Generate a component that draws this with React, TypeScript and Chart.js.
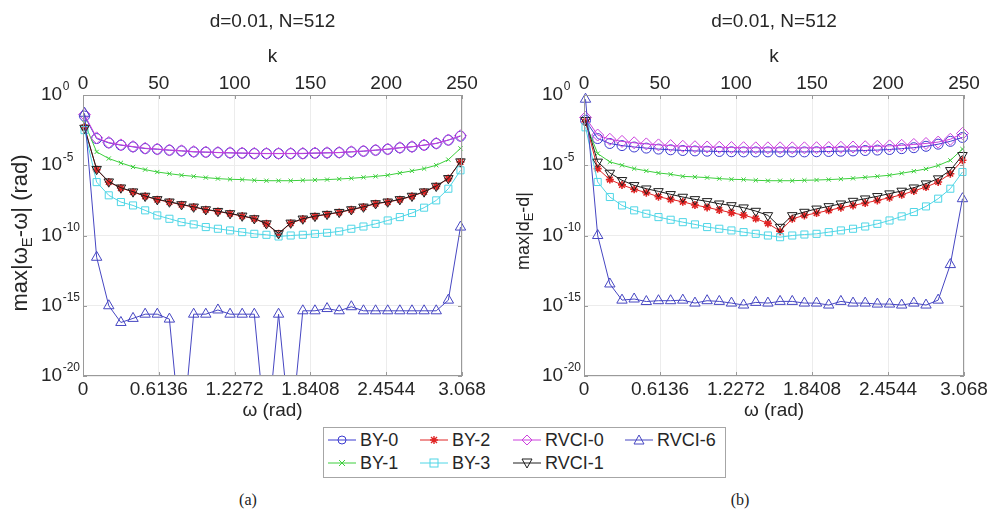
import React, { useEffect, useRef } from 'react';
import { Chart, registerables } from 'chart.js';

Chart.register(...registerables);

// ---------------- data ----------------
// sample index k (omega = 2*pi*k/512)
const K = [1, 9, 17, 25, 33, 41, 49, 57, 65, 73, 81, 89, 97, 105, 113, 121, 129, 137, 145, 153, 161, 169, 177, 185, 193, 201, 209, 217, 225, 233, 241, 249];
const K_TICKS = [0, 50, 100, 150, 200, 250];
const K_TICK_LABELS = ['0', '50', '100', '150', '200', '250'];
const OMEGA_TICK_LABELS = ['0', '0.6136', '1.2272', '1.8408', '2.4544', '3.068'];
const Y_EXPONENTS = [0, -5, -10, -15, -20];
const SERIES_NAMES = ['BY-0', 'BY-1', 'BY-2', 'BY-3', 'RVCI-0', 'RVCI-1', 'RVCI-6'];

// panel (a): log10 of max|omega_E - omega|
const A_BY0 = [-1.5, -3.1, -3.41, -3.57, -3.69, -3.81, -3.86, -3.93, -3.98, -4.05, -4.07, -4.1, -4.12, -4.14, -4.17, -4.17, -4.17, -4.17, -4.17, -4.14, -4.12, -4.1, -4.05, -4.0, -3.93, -3.86, -3.76, -3.69, -3.57, -3.45, -3.21, -2.93];
const A_BY1 = [-2.0, -4.05, -4.52, -4.83, -5.12, -5.31, -5.48, -5.6, -5.71, -5.79, -5.88, -5.95, -6.0, -6.02, -6.07, -6.1, -6.1, -6.1, -6.07, -6.05, -6.02, -5.98, -5.93, -5.86, -5.79, -5.71, -5.55, -5.4, -5.24, -5.0, -4.6, -3.8];
const A_BY2 = [-2.3, -5.31, -6.19, -6.62, -6.9, -7.21, -7.45, -7.62, -7.81, -7.98, -8.17, -8.29, -8.45, -8.62, -8.81, -9.17, -9.88, -9.12, -8.83, -8.64, -8.5, -8.36, -8.17, -7.98, -7.74, -7.62, -7.45, -7.21, -6.9, -6.5, -5.95, -4.76];
const A_BY3 = [-2.5, -6.2, -7.14, -7.62, -7.86, -8.21, -8.57, -8.81, -9.05, -9.21, -9.4, -9.52, -9.64, -9.76, -9.88, -9.95, -10.07, -10.0, -9.95, -9.88, -9.81, -9.71, -9.52, -9.36, -9.17, -8.93, -8.69, -8.4, -8.02, -7.5, -6.67, -5.36];
const A_RVCI0 = [-1.4, -3.05, -3.38, -3.55, -3.67, -3.79, -3.85, -3.92, -3.97, -4.03, -4.06, -4.09, -4.11, -4.13, -4.15, -4.16, -4.16, -4.16, -4.15, -4.13, -4.11, -4.09, -4.04, -3.99, -3.92, -3.85, -3.75, -3.68, -3.56, -3.44, -3.2, -2.9];
const A_RVCI1 = [-2.35, -5.28, -6.17, -6.6, -6.88, -7.19, -7.43, -7.6, -7.79, -7.96, -8.15, -8.27, -8.43, -8.6, -8.79, -9.15, -9.85, -9.1, -8.81, -8.62, -8.48, -8.34, -8.15, -7.96, -7.72, -7.6, -7.43, -7.19, -6.88, -6.48, -5.93, -4.74];
const A_RVCI6 = [-1.3, -11.55, -15.0, -16.19, -15.9, -15.6, -15.6, -15.95, -25.0, -15.6, -15.6, -15.3, -15.6, -15.6, -15.6, -24.7, -15.6, -24.4, -15.36, -15.36, -15.2, -15.36, -15.07, -15.36, -15.36, -15.36, -15.36, -15.36, -15.36, -15.36, -14.6, -9.4];

// panel (b): log10 of max|d_E - d|
const B_BY0 = [-1.8, -3.1, -3.45, -3.6, -3.7, -3.78, -3.85, -3.9, -3.95, -3.98, -4.0, -4.02, -4.04, -4.05, -4.05, -4.05, -4.05, -4.05, -4.05, -4.04, -4.02, -4.0, -3.98, -3.95, -3.92, -3.88, -3.82, -3.75, -3.65, -3.5, -3.3, -3.02];
const B_BY1 = [-2.0, -4.17, -4.76, -5.0, -5.24, -5.4, -5.55, -5.64, -5.79, -5.83, -5.88, -5.95, -6.0, -6.02, -6.07, -6.1, -6.1, -6.1, -6.07, -6.05, -6.02, -5.98, -5.93, -5.86, -5.79, -5.71, -5.57, -5.42, -5.26, -5.02, -4.65, -3.85];
const B_BY2 = [-1.9, -5.24, -6.02, -6.4, -6.71, -6.95, -7.24, -7.43, -7.6, -7.83, -8.0, -8.19, -8.38, -8.55, -8.79, -9.14, -9.69, -8.81, -8.57, -8.4, -8.21, -8.02, -7.86, -7.69, -7.5, -7.31, -7.1, -6.83, -6.55, -6.19, -5.6, -4.64];
const B_BY3 = [-2.3, -6.19, -7.26, -7.86, -8.21, -8.45, -8.69, -8.88, -9.05, -9.21, -9.4, -9.52, -9.64, -9.76, -9.88, -10.0, -10.12, -10.0, -9.93, -9.88, -9.76, -9.64, -9.52, -9.36, -9.17, -8.93, -8.64, -8.33, -7.93, -7.38, -6.67, -5.48];
const B_RVCI0 = [-1.6, -2.85, -3.15, -3.3, -3.4, -3.48, -3.55, -3.6, -3.65, -3.68, -3.7, -3.72, -3.74, -3.75, -3.76, -3.76, -3.76, -3.76, -3.76, -3.75, -3.74, -3.72, -3.7, -3.68, -3.65, -3.62, -3.58, -3.52, -3.45, -3.35, -3.15, -2.74];
const B_RVCI1 = [-1.8, -4.76, -5.55, -6.07, -6.43, -6.67, -6.86, -7.07, -7.26, -7.43, -7.57, -7.74, -7.86, -8.02, -8.26, -8.57, -9.4, -8.57, -8.33, -8.1, -7.93, -7.74, -7.55, -7.38, -7.21, -7.02, -6.83, -6.6, -6.31, -5.95, -5.36, -4.29];
const B_RVCI6 = [-0.3, -10.0, -13.45, -14.6, -14.52, -14.7, -14.64, -14.64, -14.6, -14.81, -14.64, -14.69, -14.81, -14.95, -14.76, -14.81, -14.69, -14.69, -14.81, -14.81, -14.95, -14.69, -14.81, -14.81, -14.88, -14.88, -14.95, -14.81, -14.95, -14.6, -12.07, -7.38];

const PANEL_A = [A_BY0, A_BY1, A_BY2, A_BY3, A_RVCI0, A_RVCI1, A_RVCI6];
const PANEL_B = [B_BY0, B_BY1, B_BY2, B_BY3, B_RVCI0, B_RVCI1, B_RVCI6];

// ---------------- styles ----------------
const FONT = '"Liberation Sans", Arial, Helvetica, sans-serif';
const TEXT = '#262626';
const AXIS = '#9a9a9a';
const GRID = '#ececec';

type Style = { color: string; pointStyle: string; radius: number; rotation: number; pbw: number; lw: number };
const STYLES: Style[] = [
  { color: '#3b3bd0', pointStyle: 'circle', radius: 5, rotation: 0, pbw: 1, lw: 1 },
  { color: '#3ccf3c', pointStyle: 'crossRot', radius: 3, rotation: 0, pbw: 1, lw: 1 },
  { color: '#e02424', pointStyle: 'star', radius: 4, rotation: 0, pbw: 1.6, lw: 1 },
  { color: '#4fd6e6', pointStyle: 'rect', radius: 5, rotation: 0, pbw: 1, lw: 1 },
  { color: '#cc40dd', pointStyle: 'rectRot', radius: 6, rotation: 0, pbw: 1, lw: 1 },
  { color: '#1e1e1e', pointStyle: 'triangle', radius: 5.5, rotation: 180, pbw: 1, lw: 1 },
  { color: '#4646c2', pointStyle: 'triangle', radius: 6, rotation: 0, pbw: 1, lw: 1 },
];

const CANVAS_W = 496;
const CANVAS_H = 430;
const PLOT_TOP = 95; // height reserved above the plot (top axis)
const PLOT_BOTTOM_SPACE = 54; // height reserved below the plot (bottom axis)
const TICK_FONT = 19;

type PanelCfg = {
  left: number;
  values: number[][];
  title: string;
  yMain: string;
  ySub: string;
  yTail: string;
  yFont: number;
  yTitleX: number;
  yTitleY: number;
  pad: { left: number; right: number; top: number; bottom: number };
};

function makeDecor(cfg: PanelCfg) {
  return {
    id: 'decor',
    afterDraw(chart: any) {
      const { ctx, chartArea: a, scales } = chart;
      const yS = scales.y;
      const xS = scales.x;
      const cx = (a.left + a.right) / 2;
      ctx.save();
      // box
      ctx.strokeStyle = AXIS;
      ctx.lineWidth = 1;
      ctx.strokeRect(a.left + 0.5, a.top + 0.5, a.right - a.left - 1, a.bottom - a.top - 1);
      // inner tick marks
      ctx.beginPath();
      K_TICKS.forEach((k) => {
        const x = Math.round(xS.getPixelForValue(k)) + 0.5;
        ctx.moveTo(x, a.bottom);
        ctx.lineTo(x, a.bottom - 4);
        ctx.moveTo(x, a.top);
        ctx.lineTo(x, a.top + 4);
      });
      Y_EXPONENTS.forEach((e) => {
        const y = Math.round(yS.getPixelForValue(Math.pow(10, e))) + 0.5;
        ctx.moveTo(a.left, y);
        ctx.lineTo(a.left + 4, y);
        ctx.moveTo(a.right, y);
        ctx.lineTo(a.right - 4, y);
      });
      ctx.stroke();

      ctx.fillStyle = TEXT;
      // y tick labels 10^e
      Y_EXPONENTS.forEach((e) => {
        const y = yS.getPixelForValue(Math.pow(10, e));
        const x0 = a.left - 42;
        ctx.font = `${TICK_FONT}px ${FONT}`;
        ctx.textAlign = 'left';
        ctx.textBaseline = 'middle';
        ctx.fillText('10', x0, y);
        const w = ctx.measureText('10').width;
        ctx.font = `12px ${FONT}`;
        ctx.fillText(String(e), x0 + w + 0.5, y - 8);
      });

      // titles
      ctx.textAlign = 'center';
      ctx.textBaseline = 'middle';
      ctx.font = `19px ${FONT}`;
      ctx.fillText(cfg.title, cx, 22);
      ctx.font = `19px ${FONT}`;
      ctx.fillText('k', cx, 57);
      ctx.fillText('ω (rad)', cx, 411);

      // rotated y title with subscript
      ctx.translate(cfg.yTitleX, cfg.yTitleY);
      ctx.rotate(-Math.PI / 2);
      ctx.textAlign = 'left';
      const mainFont = `${cfg.yFont}px ${FONT}`;
      const subFont = `${Math.round(cfg.yFont * 0.7)}px ${FONT}`;
      ctx.font = mainFont;
      const w1 = ctx.measureText(cfg.yMain).width;
      const w3 = ctx.measureText(cfg.yTail).width;
      ctx.font = subFont;
      const w2 = ctx.measureText(cfg.ySub).width;
      let x = -(w1 + w2 + w3) / 2;
      ctx.font = mainFont;
      ctx.fillText(cfg.yMain, x, 0);
      x += w1;
      ctx.font = subFont;
      ctx.fillText(cfg.ySub, x, cfg.yFont * 0.3);
      x += w2;
      ctx.font = mainFont;
      ctx.fillText(cfg.yTail, x, 0);
      ctx.restore();
    },
  };
}

function Panel({ cfg }: { cfg: PanelCfg }) {
  const ref = useRef<HTMLCanvasElement>(null);
  useEffect(() => {
    const setTicks = (s: any) => {
      s.ticks = K_TICKS.map((v) => ({ value: v }));
    };
    const chart = new Chart(ref.current as HTMLCanvasElement, {
      type: 'line',
      data: {
        datasets: STYLES.map((s, i) => ({
          label: SERIES_NAMES[i],
          data: K.map((k, j) => ({ x: k, y: Math.pow(10, cfg.values[i][j]) })),
          borderColor: s.color,
          backgroundColor: 'rgba(0,0,0,0)',
          borderWidth: s.lw,
          pointStyle: s.pointStyle as any,
          pointRadius: s.radius,
          pointBorderWidth: s.pbw,
          pointBorderColor: s.color,
          pointBackgroundColor: 'rgba(0,0,0,0)',
          pointRotation: s.rotation,
          tension: 0,
          fill: false,
          order: STYLES.length - i,
          clip: { left: 10, right: 10, top: 10, bottom: 0 } as any,
        })),
      },
      options: {
        animation: false,
        responsive: false,
        devicePixelRatio: 1,
        layout: { padding: cfg.pad },
        plugins: { legend: { display: false }, tooltip: { enabled: false }, title: { display: false } },
        scales: {
          x: {
            type: 'linear',
            position: 'bottom',
            min: 0,
            max: 250,
            afterBuildTicks: setTicks,
            afterFit: (s: any) => {
              s.height = PLOT_BOTTOM_SPACE;
            },
            ticks: {
              autoSkip: false,
              maxRotation: 0,
              padding: 2,
              color: TEXT,
              font: { family: FONT, size: TICK_FONT },
              callback: (_v: any, i: number) => OMEGA_TICK_LABELS[i],
            },
            grid: { color: GRID, drawTicks: false },
            border: { display: false },
          },
          x2: {
            type: 'linear',
            position: 'top',
            min: 0,
            max: 250,
            afterBuildTicks: setTicks,
            afterFit: (s: any) => {
              s.height = PLOT_TOP;
            },
            ticks: {
              autoSkip: false,
              maxRotation: 0,
              padding: 0,
              color: TEXT,
              font: { family: FONT, size: TICK_FONT },
              callback: (_v: any, i: number) => K_TICK_LABELS[i],
            },
            grid: { display: false, drawTicks: false },
            border: { display: false },
          },
          y: {
            type: 'logarithmic',
            min: 1e-20,
            max: 1,
            afterBuildTicks: (s: any) => {
              s.ticks = Y_EXPONENTS.map((e) => ({ value: Math.pow(10, e) }));
            },
            afterFit: (s: any) => {
              s.width = 0;
            },
            ticks: { display: false },
            grid: { color: GRID, drawTicks: false },
            border: { display: false },
          },
        },
      } as any,
      plugins: [makeDecor(cfg)],
    });
    return () => chart.destroy();
  }, []);
  return (
    <canvas
      ref={ref}
      width={CANVAS_W}
      height={CANVAS_H}
      style={{ position: 'absolute', left: cfg.left, top: 0, width: CANVAS_W, height: CANVAS_H }}
    />
  );
}

function Marker({ s }: { s: Style }) {
  const c = s.color;
  const common = { fill: 'none', stroke: c, strokeWidth: 1 };
  switch (s.pointStyle) {
    case 'circle':
      return <circle cx={14} cy={7} r={4} {...common} />;
    case 'crossRot':
      return <path d="M11,4 L17,10 M17,4 L11,10" {...common} />;
    case 'star':
      return <path d="M11,4 L17,10 M17,4 L11,10 M14,3 L14,11 M10,7 L18,7" {...common} strokeWidth={1.4} />;
    case 'rect':
      return <rect x={10} y={3} width={8} height={8} {...common} />;
    case 'rectRot':
      return <polygon points="14,2 19,7 14,12 9,7" {...common} />;
    default:
      return s.rotation === 180 ? (
        <polygon points="9,3 19,3 14,12" {...common} />
      ) : (
        <polygon points="14,2 19,11 9,11" {...common} />
      );
  }
}

const LEGEND_POS = [
  { x: 328, y: 440 },
  { x: 328, y: 463 },
  { x: 420, y: 440 },
  { x: 420, y: 463 },
  { x: 513, y: 440 },
  { x: 513, y: 463 },
  { x: 625, y: 440 },
];

function Legend() {
  return (
    <div>
      <div
        style={{
          position: 'absolute',
          left: 323,
          top: 427,
          width: 401,
          height: 49,
          border: '1px solid #a6a6a6',
          background: '#fff',
        }}
      />
      {STYLES.map((s, i) => (
        <div key={i} style={{ position: 'absolute', left: LEGEND_POS[i].x, top: LEGEND_POS[i].y - 11, height: 22 }}>
          <svg width={28} height={14} style={{ position: 'absolute', left: 0, top: 4 }}>
            <line x1={0} y1={7} x2={28} y2={7} stroke={s.color} strokeWidth={1} />
            <Marker s={s} />
          </svg>
          <span
            style={{
              position: 'absolute',
              left: 32,
              top: 0,
              lineHeight: '22px',
              fontFamily: FONT,
              fontSize: 18,
              color: TEXT,
              whiteSpace: 'nowrap',
            }}
          >
            {SERIES_NAMES[i]}
          </span>
        </div>
      ))}
    </div>
  );
}

const CFG_A: PanelCfg = {
  left: 0,
  values: PANEL_A,
  title: 'd=0.01, N=512',
  yMain: 'max|ω',
  ySub: 'E',
  yTail: '-ω| (rad)',
  yFont: 22,
  yTitleX: 21,
  yTitleY: 233,
  pad: { left: 83, right: 34, top: 0, bottom: 0 },
};

const CFG_B: PanelCfg = {
  left: 496,
  values: PANEL_B,
  title: 'd=0.01, N=512',
  yMain: 'max|d',
  ySub: 'E',
  yTail: '-d|',
  yFont: 18,
  yTitleX: 28,
  yTitleY: 231,
  pad: { left: 88, right: 28, top: 0, bottom: 0 },
};

export default function App() {
  return (
    <div style={{ position: 'absolute', left: 0, top: 0, width: 992, height: 519, background: '#fff', overflow: 'hidden' }}>
      <Panel cfg={CFG_A} />
      <Panel cfg={CFG_B} />
      <Legend />
      <div style={{ position: 'absolute', left: 228, top: 491, width: 40, textAlign: 'center', fontFamily: '"Liberation Serif", "DejaVu Serif", serif', fontSize: 16, color: '#222' }}>(a)</div>
      <div style={{ position: 'absolute', left: 720, top: 491, width: 40, textAlign: 'center', fontFamily: '"Liberation Serif", "DejaVu Serif", serif', fontSize: 16, color: '#222' }}>(b)</div>
    </div>
  );
}
